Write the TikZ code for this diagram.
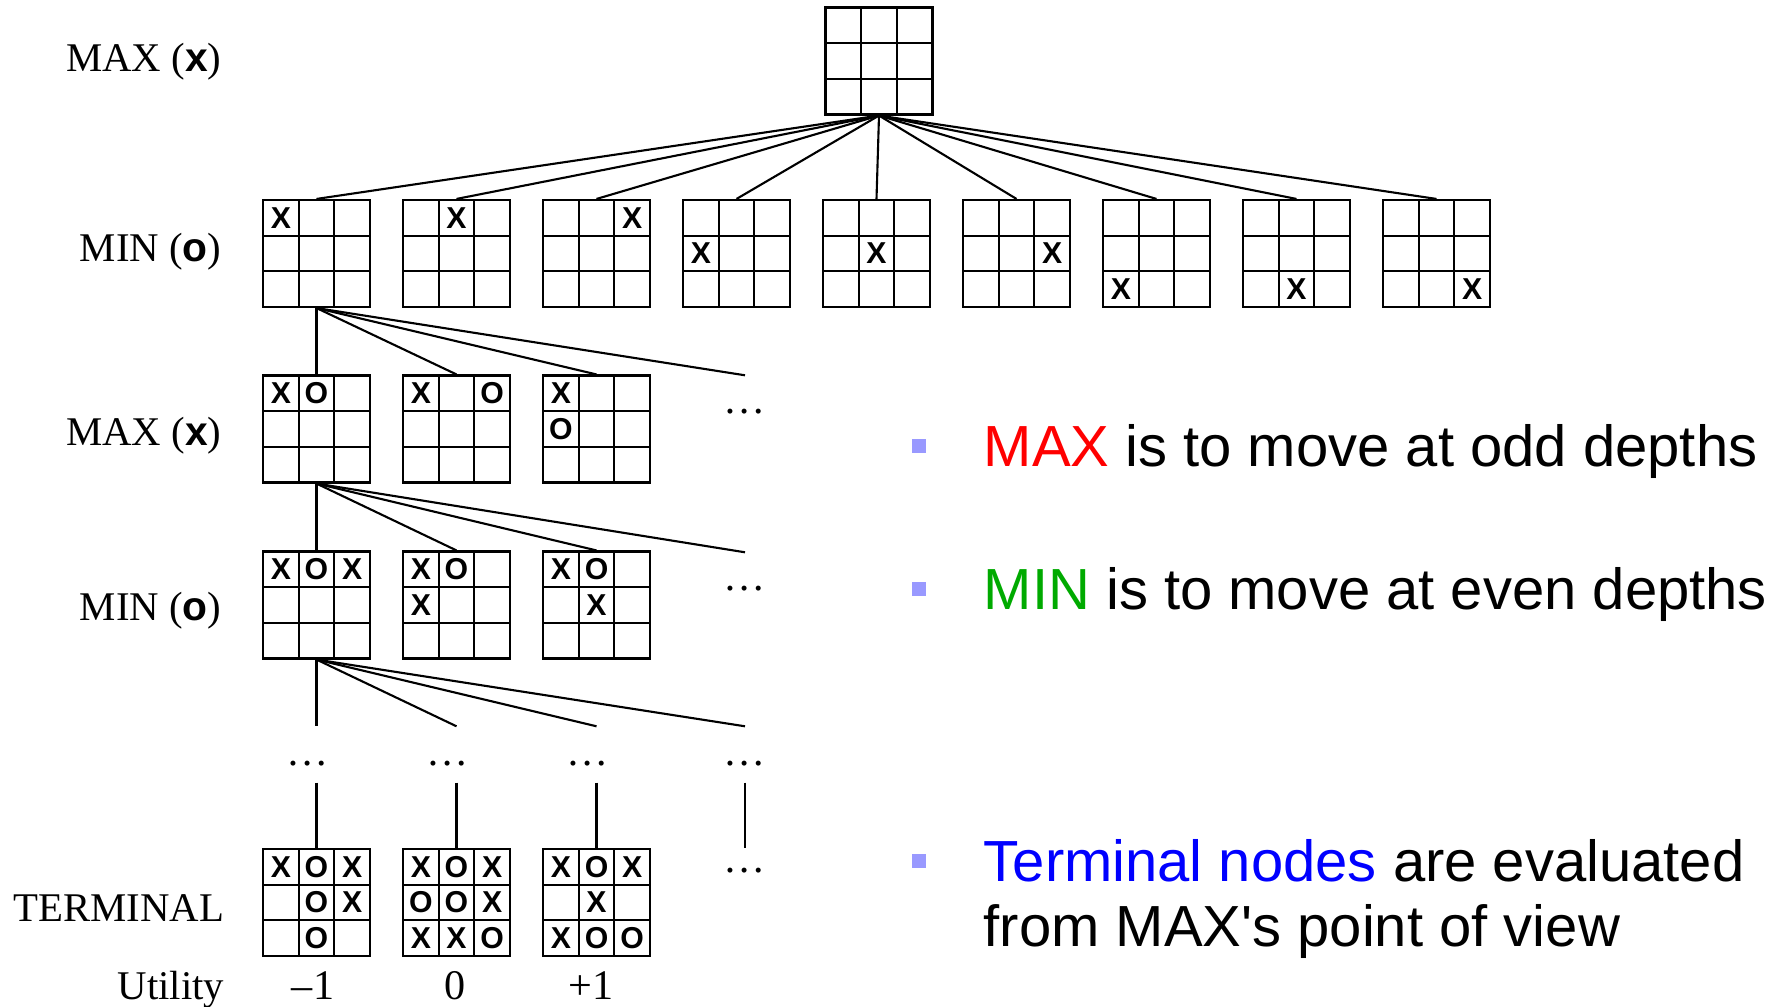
\documentclass[tikz,border=0pt]{standalone}
\usepackage{fontspec}
\setmainfont{Liberation Serif}
\setsansfont{Liberation Sans}
\newfontfamily\slidefont[Ligatures=TeXOff]{Liberation Sans}

\definecolor{maxred}{RGB}{255,0,0}
\definecolor{mingreen}{RGB}{0,170,0}
\definecolor{termblue}{RGB}{0,0,255}
\definecolor{bulletblue}{RGB}{153,153,255}

\tikzset{
  board/.style={draw, line width=0.6pt, minimum size=10.7mm, inner sep=0pt},
  cell/.style={line width=0.6pt},
  xo/.style={inner sep=0pt, font=\sffamily\bfseries\fontsize{8.6}{9}\selectfont},
  tier/.style={anchor=base east, inner sep=0pt, font=\fontsize{11.6}{14}\selectfont},
  link/.style={line width=0.6pt},
  more/.style={inner sep=0pt, text height=3.8mm, text depth=1.7mm, font=\fontsize{12}{14}\selectfont},
  point/.style={fill=bulletblue, minimum size=1.4mm, inner sep=0pt},
  say/.style={anchor=base west, inner sep=0pt, font=\slidefont\fontsize{16.5}{19}\selectfont}
}

% board: name, x, y, marks (col/row/letter)
\newcommand{\board}[4]{%
  \node[board] (#1) at (#2,#3) {};
  \draw[cell] (#2-17.83,#3-53.5) -- (#2-17.83,#3+53.5)
              (#2+17.83,#3-53.5) -- (#2+17.83,#3+53.5)
              (#2-53.5,#3-17.83) -- (#2+53.5,#3-17.83)
              (#2-53.5,#3+17.83) -- (#2+53.5,#3+17.83);
  \foreach \c/\r/\m in {#4} \node[xo] at (#2+35.67*\c,#3+35.67*\r) {\m};
}

\begin{document}
\begin{tikzpicture}[x=0.1mm, y=-0.1mm]
\useasboundingbox (0,0) rectangle (1791,1007);

% levels
\node[tier] (l0) at (222,72) {MAX (\textsf{\bfseries x})};
\node[tier] (l1) at (222,262) {MIN (\textsf{\bfseries o})};
\node[tier] (l2) at (222,445) {MAX (\textsf{\bfseries x})};
\node[tier] (l3) at (222,620) {MIN (\textsf{\bfseries o})};
\node[tier] (l4) at (225,921) {TERMINAL};
\node[tier] (l5) at (225,999) {Utility};

% root
\board{r}{879}{61}{0/0/{}}

% first moves
\board{a0}{316.5}{253.5}{-1/-1/X}
\board{a1}{456.5}{253.5}{0/-1/X}
\board{a2}{596.5}{253.5}{1/-1/X}
\board{a3}{736.5}{253.5}{-1/0/X}
\board{a4}{876.5}{253.5}{0/0/X}
\board{a5}{1016.5}{253.5}{1/0/X}
\board{a6}{1156.5}{253.5}{-1/1/X}
\board{a7}{1296.5}{253.5}{0/1/X}
\board{a8}{1436.5}{253.5}{1/1/X}

% replies
\board{b0}{316.5}{429}{-1/-1/X, 0/-1/O}
\board{b1}{456.5}{429}{-1/-1/X, 1/-1/O}
\board{b2}{596.5}{429}{-1/-1/X, -1/0/O}
\node[more] (d2) at (745,403.5) {\ldots};

\board{c0}{316.5}{605}{-1/-1/X, 0/-1/O, 1/-1/X}
\board{c1}{456.5}{605}{-1/-1/X, 0/-1/O, -1/0/X}
\board{c2}{596.5}{605}{-1/-1/X, 0/-1/O, 0/0/X}
\node[more] (d3) at (745,580.5) {\ldots};

% gaps
\node[more] (k0) at (308,754.5) {\ldots};
\node[more] (k1) at (448,754.5) {\ldots};
\node[more] (k2) at (588,754.5) {\ldots};
\node[more] (k3) at (745,754.5) {\ldots};

% terminal states
\board{t0}{316.5}{902.5}{-1/-1/X, 0/-1/O, 1/-1/X, 0/0/O, 1/0/X, 0/1/O}
\board{t1}{456.5}{902.5}{-1/-1/X, 0/-1/O, 1/-1/X, -1/0/O, 0/0/O, 1/0/X, -1/1/X, 0/1/X, 1/1/O}
\board{t2}{596.5}{902.5}{-1/-1/X, 0/-1/O, 1/-1/X, 0/0/X, -1/1/X, 0/1/O, 1/1/O}
\node[more, text height=2.3mm] (d5) at (745,869) {\ldots};

\node[anchor=base, inner sep=0pt, font=\fontsize{12}{14}\selectfont] (u0) at (313,999) {--1};
\node[anchor=base, inner sep=0pt, font=\fontsize{12}{14}\selectfont] (u1) at (455,999) {0};
\node[anchor=base, inner sep=0pt, font=\fontsize{12}{14}\selectfont] (u2) at (591,999) {+1};

% edges
\foreach \k in {0,...,8} \draw[link] (r.south) -- (a\k.north);
\foreach \k in {0,1,2} \draw[link] (a0.south) -- (b\k.north);
\draw[link] (a0.south) -- (d2.north);
\foreach \k in {0,1,2} \draw[link] (b0.south) -- (c\k.north);
\draw[link] (b0.south) -- (d3.north);
\draw[link] (c0.south) -- (t0 |- k0.north);
\draw[link] (c0.south) -- (t1 |- k1.north);
\draw[link] (c0.south) -- (t2 |- k2.north);
\draw[link] (c0.south) -- (k3.north);
\draw[link] (t0 |- k0.south) -- (t0.north);
\draw[link] (t1 |- k1.south) -- (t1.north);
\draw[link] (t2 |- k2.south) -- (t2.north);
\draw[link] (k3.south) -- (d5.north);

% notes
\node[point] (p1) at (919,446) {};
\node[say] (s1) at (983,466) {\textcolor{maxred}{MAX} is to move at odd depths};
\node[point] (p2) at (919,589) {};
\node[say] (s2) at (983,609) {\textcolor{mingreen}{MIN} is to move at even depths};
\node[point] (p3) at (919,861) {};
\node[say] (s3) at (983,881) {\textcolor{termblue}{Terminal nodes} are evaluated};
\node[say] (s4) at (983,946) {from MAX's point of view};
\end{tikzpicture}
\end{document}
